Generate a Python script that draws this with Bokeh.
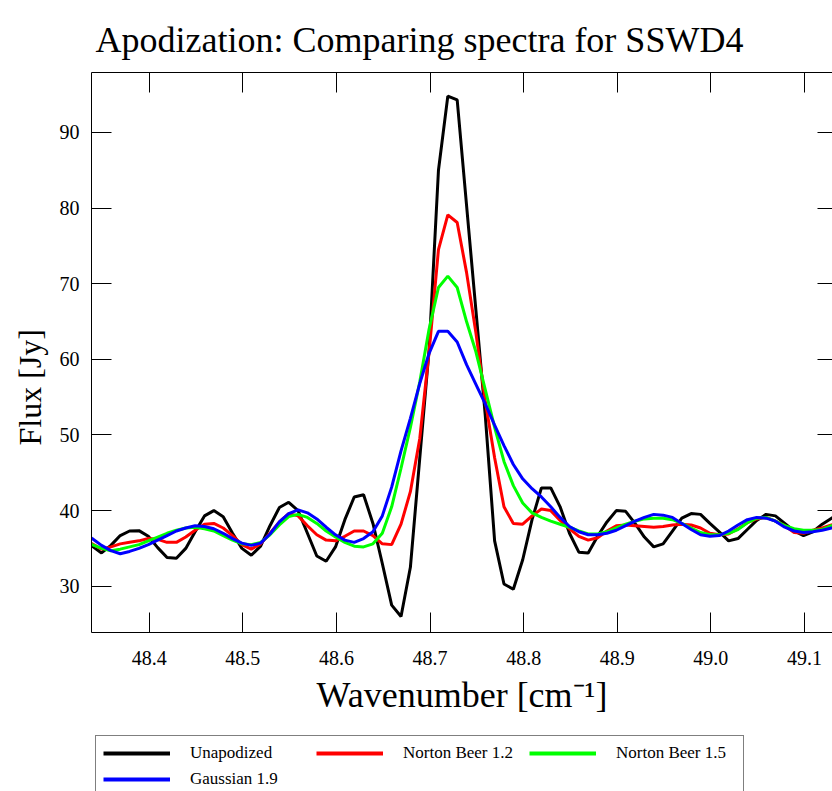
from bokeh.plotting import figure
from bokeh.layouts import column
from bokeh.models import (LinearAxis, FixedTicker, PrintfTickFormatter, Legend,
                          LegendItem, Range1d, Title, Grid)
from bokeh.embed import file_html
from bokeh.resources import INLINE

# ---- data ----
wavenumber = [48.329, 48.339, 48.349, 48.359, 48.369, 48.379, 48.389, 48.399, 48.409, 48.419,
              48.429, 48.439, 48.449, 48.459, 48.469, 48.479, 48.489, 48.499, 48.509, 48.519,
              48.529, 48.539, 48.549, 48.559, 48.569, 48.579, 48.589, 48.599, 48.609, 48.619,
              48.629, 48.639, 48.649, 48.659, 48.669, 48.679, 48.689, 48.699, 48.709, 48.719,
              48.729, 48.739, 48.749, 48.759, 48.769, 48.779, 48.789, 48.799, 48.809, 48.819,
              48.829, 48.839, 48.849, 48.859, 48.869, 48.879, 48.889, 48.899, 48.909, 48.919,
              48.929, 48.939, 48.949, 48.959, 48.969, 48.979, 48.989, 48.999, 49.009, 49.019,
              49.029, 49.039, 49.049, 49.059, 49.069, 49.079, 49.089, 49.099, 49.109, 49.119,
              49.129, 49.139]

unapodized = [36.5, 35.3, 34.4, 35.4, 36.7, 37.3, 37.35, 36.6, 35.1, 33.8,
              33.7, 35.0, 37.2, 39.3, 40.0, 39.2, 37.0, 35.0, 34.1, 35.3,
              38.0, 40.4, 41.1, 40.0, 37.0, 34.0, 33.3, 35.2, 38.8, 41.8,
              42.1, 38.3, 33.0, 27.5, 26.0, 32.5, 46.9, 61.3, 85.0, 94.8,
              94.3, 80.4, 66.5, 52.6, 36.0, 30.3, 29.6, 33.5, 38.8, 43.0,
              43.0, 40.5, 37.0, 34.5, 34.4, 36.6, 38.5, 40.0, 39.9, 38.3,
              36.5, 35.2, 35.6, 37.3, 39.0, 39.6, 39.5, 38.3, 37.2, 36.0,
              36.3, 37.5, 38.7, 39.5, 39.3, 38.3, 37.3, 36.7, 37.2, 38.2,
              39.0, 39.5]

norton_beer_12 = [36.5, 35.6, 34.9, 35.2, 35.6, 35.8, 36.0, 36.3, 36.2, 35.8,
                  35.8, 36.5, 37.4, 38.2, 38.3, 37.7, 36.7, 35.5, 34.9, 35.6,
                  37.0, 38.5, 39.6, 39.3, 38.0, 36.8, 36.1, 36.0, 36.6, 37.3,
                  37.3, 36.7, 35.6, 35.5, 38.2, 42.5, 49.5, 61.0, 74.5, 79.1,
                  78.1, 71.5, 63.5, 54.5, 47.0, 40.5, 38.3, 38.2, 39.3, 40.2,
                  40.0, 38.7, 37.6, 36.6, 36.1, 36.4, 37.3, 38.0, 38.1, 38.0,
                  37.9, 37.8, 37.9, 38.1, 38.2, 38.1, 37.7, 37.0, 36.8, 36.9,
                  37.6, 38.4, 38.9, 39.1, 38.6, 38.0, 37.1, 37.0, 37.4, 37.7,
                  38.1, 38.4]

norton_beer_15 = [36.3, 35.5, 35.0, 34.7, 34.9, 35.2, 35.5, 36.0, 36.5, 37.0,
                  37.4, 37.7, 37.8, 37.6, 37.3, 36.7, 36.1, 35.6, 35.5, 35.8,
                  36.8, 38.1, 39.2, 39.5, 39.1, 38.3, 37.3, 36.5, 35.8, 35.3,
                  35.2, 35.6, 37.0, 40.5, 45.6, 51.0, 57.0, 64.0, 69.5, 71.0,
                  69.5, 65.0, 61.0, 56.0, 51.0, 46.5, 43.3, 41.0, 39.7, 39.1,
                  38.6, 38.2, 37.8, 37.3, 36.9, 36.9, 37.2, 37.7, 38.2, 38.6,
                  38.9, 39.0, 39.0, 38.8, 38.3, 37.7, 37.1, 36.8, 36.8, 37.0,
                  37.5, 38.4, 39.0, 39.1, 38.6, 38.0, 37.6, 37.4, 37.4, 37.5,
                  38.0, 38.3]

gaussian_19 = [37.3, 36.3, 35.4, 34.7, 34.3, 34.6, 35.0, 35.5, 36.1, 36.7,
               37.3, 37.7, 38.0, 37.9, 37.6, 37.0, 36.3, 35.7, 35.4, 35.7,
               36.9, 38.5, 39.6, 40.1, 39.7, 38.9, 37.8, 36.8, 36.1, 35.8,
               36.3, 37.2, 39.3, 43.1, 47.9, 52.2, 56.8, 60.8, 63.7, 63.7,
               62.3, 59.3, 56.7, 54.1, 51.3, 48.6, 46.1, 44.2, 42.9, 41.8,
               40.5, 39.1, 37.9, 37.2, 36.8, 36.8, 37.0, 37.4, 38.0, 38.6,
               39.1, 39.5, 39.4, 39.1, 38.3, 37.5, 36.8, 36.6, 36.7, 37.3,
               38.1, 38.8, 39.1, 39.0, 38.6, 37.8, 37.3, 37.1, 37.2, 37.4,
               37.7, 37.9]

series_labels = ["Unapodized", "Norton Beer 1.2", "Norton Beer 1.5", "Gaussian 1.9"]
series_colors = ["#000000", "#ff0000", "#00ff00", "#0000ff"]
x_ticks = [48.4, 48.5, 48.6, 48.7, 48.8, 48.9, 49.0, 49.1]
y_ticks = [30, 40, 50, 60, 70, 80, 90]
title_text = "Apodization: Comparing spectra for SSWD4"

FONT = "Liberation Serif"

p = figure(width=832, height=730,
           x_range=Range1d(48.3383, 49.130), y_range=Range1d(23.88, 97.93),
           output_backend="svg", toolbar_location=None,
           x_axis_location=None, y_axis_location=None,
           min_border_left=91, min_border_right=0,
           min_border_top=72, min_border_bottom=98)
p.outline_line_color = None
p.background_fill_color = "white"
p.border_fill_color = "white"
for r in list(p.center):
    if isinstance(r, Grid):
        r.visible = False

p.title.text = title_text
p.title.text_font = FONT
p.title.text_font_size = "36px"
p.title.text_font_style = "normal"
p.title.text_color = "black"
p.title.align = "left"
p.title.offset = 4
p.title.standoff = 26


def style(ax, ticks, label_size):
    ax.ticker = FixedTicker(ticks=ticks, minor_ticks=[])
    ax.major_tick_in = 20
    ax.major_tick_out = 0
    ax.minor_tick_in = 0
    ax.minor_tick_out = 0
    ax.axis_line_color = "black"
    ax.axis_line_width = 1
    ax.major_tick_line_color = "black"
    ax.major_tick_line_width = 1
    ax.major_label_text_font = FONT
    ax.major_label_text_font_size = label_size
    ax.major_label_text_color = "black"
    ax.axis_label_text_font = FONT
    ax.axis_label_text_font_style = "normal"
    ax.axis_label_text_color = "black"


xb = LinearAxis(axis_label="Wavenumber [cm\u207b\u00b9]",
                formatter=PrintfTickFormatter(format="%.1f"))
style(xb, x_ticks, "20px")
xb.axis_label_text_font_size = "36px"
xb.major_label_standoff = 18
xb.axis_label_standoff = 7
p.add_layout(xb, "below")

yl = LinearAxis(formatter=PrintfTickFormatter(format="%d"))
style(yl, y_ticks, "20px")
yl.major_label_standoff = 12
p.add_layout(yl, "left")

ylab = Title(text="Flux [Jy]", align="left", offset=187, standoff=18,
             text_font=FONT, text_font_size="32px", text_font_style="normal",
             text_color="black")
p.add_layout(ylab, "left")

xt = LinearAxis()
style(xt, x_ticks, "1px")
xt.major_label_text_color = None
xt.major_label_standoff = 0
p.add_layout(xt, "above")

yr = LinearAxis()
style(yr, y_ticks, "1px")
yr.major_label_text_color = None
yr.major_tick_in = 15
yr.major_label_standoff = 0
yr.axis_line_color = None
p.add_layout(yr, "right")

series = [unapodized, norton_beer_12, norton_beer_15, gaussian_19]
for ys, col in zip(series, series_colors):
    p.line(wavenumber, ys, line_color=col, line_width=3)

# ---- legend strip below the plot (its lines lie outside its own view) ----
q = figure(width=832, height=61, x_range=Range1d(0, 1), y_range=Range1d(0, 1),
           output_backend="svg", toolbar_location=None,
           x_axis_location=None, y_axis_location=None, min_border=0)
q.outline_line_color = None
q.background_fill_color = "white"
q.border_fill_color = "white"
for r in list(q.center):
    if isinstance(r, Grid):
        r.visible = False

proxies = [q.line(wavenumber, ys, line_color=col, line_width=4)
           for ys, col in zip(series, series_colors)]
items = [LegendItem(label=lab, renderers=[r]) for lab, r in zip(series_labels, proxies)]
legend = Legend(items=items, location=(4, -6), orientation="horizontal", ncols=3,
                glyph_width=67, glyph_height=20, label_standoff=20, label_width=120,
                label_height=20, spacing=6, padding=7, margin=0,
                border_line_color="black", border_line_width=1,
                background_fill_color="white", background_fill_alpha=1.0,
                label_text_font=FONT, label_text_font_size="17px", label_text_color="black")
q.add_layout(legend, "center")

page = column(p, q, spacing=0)
open("out.html", "w").write(file_html(page, INLINE))
